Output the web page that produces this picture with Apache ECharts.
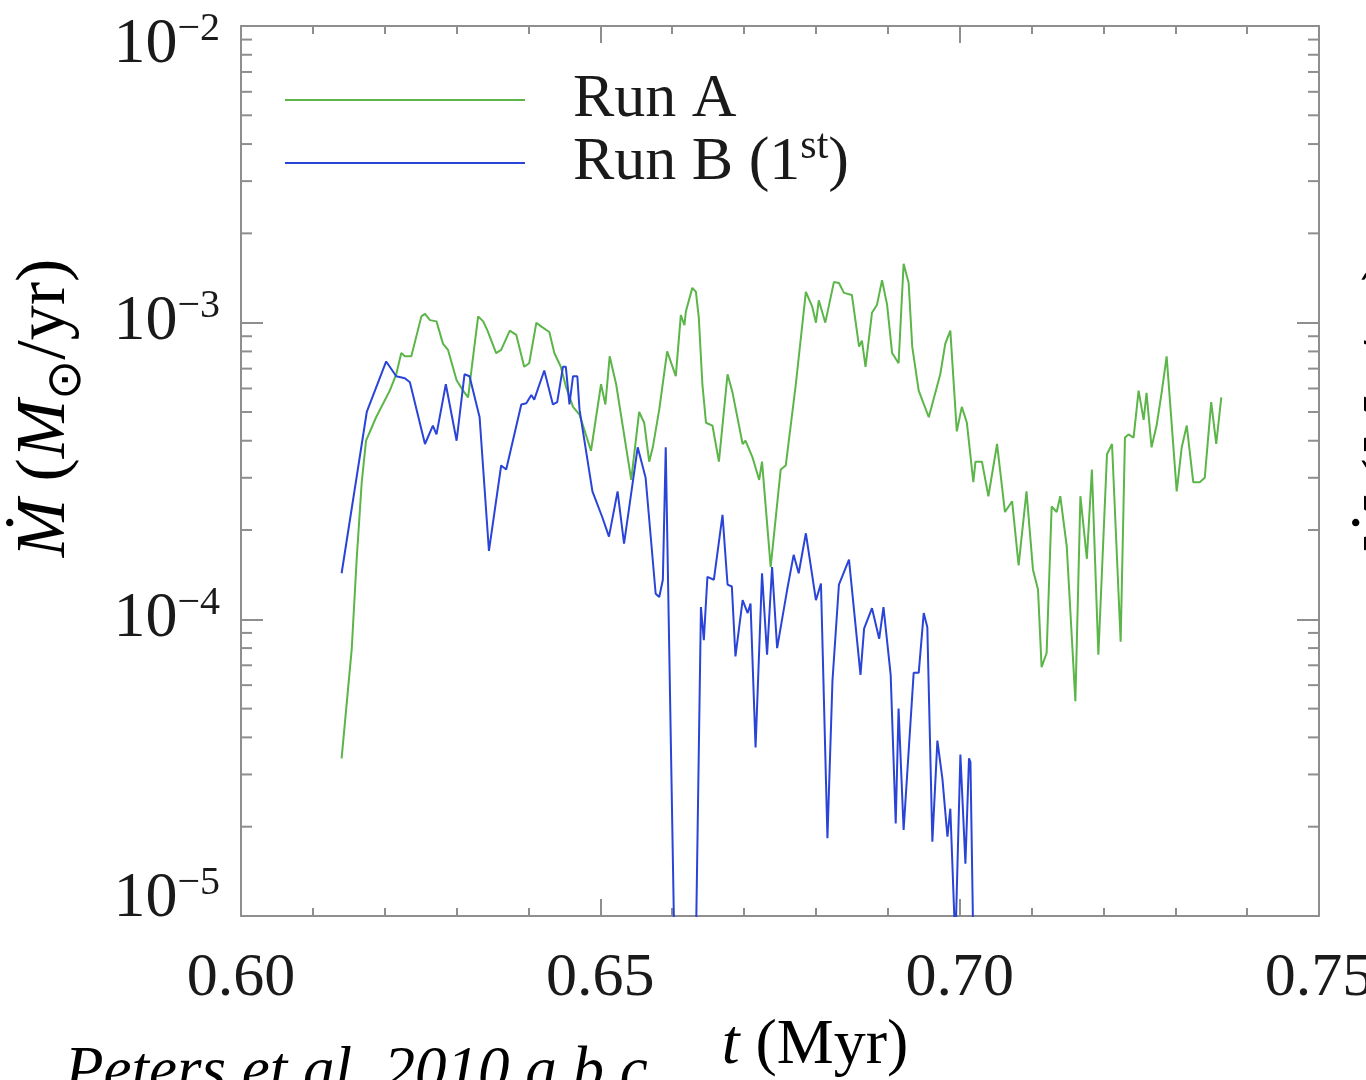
<!DOCTYPE html>
<html>
<head>
<meta charset="utf-8">
<script src="https://cdn.jsdelivr.net/npm/echarts@6/dist/echarts.min.js"></script>
<style>
html,body{margin:0;padding:0;background:#fff;}
#chart{width:1366px;height:1080px;}
</style>
</head>
<body>
<div id="chart"></div>
<script>
// ---- data: [t (Myr), Mdot (Msun/yr)] ----
const runA = [
[0.6140,3.4e-5],[0.6154,7.9e-5],[0.6161,1.6e-4],[0.6168,2.9e-4],[0.6174,4.0e-4],[0.6188,4.8e-4],
[0.6207,5.9e-4],[0.6216,6.7e-4],[0.6223,7.9e-4],[0.6228,7.7e-4],[0.6237,7.7e-4],[0.6251,1.05e-3],
[0.6256,1.07e-3],[0.6263,1.02e-3],[0.6272,1.01e-3],[0.6281,8.5e-4],[0.6288,8.1e-4],[0.6300,6.4e-4],
[0.6309,5.9e-4],[0.6316,5.6e-4],[0.6323,7.7e-4],[0.6330,1.05e-3],[0.6337,1.01e-3],[0.6343,9.4e-4],
[0.6355,7.9e-4],[0.6362,8.1e-4],[0.6374,9.4e-4],[0.6383,9.1e-4],[0.6394,7.1e-4],[0.6401,7.3e-4],
[0.6411,1.0e-3],[0.6418,9.7e-4],[0.6429,9.3e-4],[0.6436,7.9e-4],[0.6445,7.1e-4],[0.6452,6.1e-4],
[0.6462,5.2e-4],[0.6471,4.9e-4],[0.6487,3.7e-4],[0.6501,6.2e-4],[0.6507,5.3e-4],[0.6513,7.7e-4],
[0.6522,6.2e-4],[0.6543,2.95e-4],[0.6554,5.0e-4],[0.6561,4.6e-4],[0.6568,3.4e-4],[0.6573,3.8e-4],
[0.6582,5.1e-4],[0.6593,8.0e-4],[0.6605,6.6e-4],[0.6612,1.06e-3],[0.6617,9.8e-4],[0.6619,1.09e-3],
[0.6628,1.31e-3],[0.6633,1.27e-3],[0.6637,1.04e-3],[0.6642,6.2e-4],[0.6647,4.6e-4],[0.6656,4.5e-4],
[0.6665,3.4e-4],[0.6677,6.7e-4],[0.6684,5.8e-4],[0.6698,3.9e-4],[0.6702,4.0e-4],[0.6712,3.5e-4],
[0.6721,2.95e-4],[0.6725,3.4e-4],[0.6737,1.5e-4],[0.6751,3.2e-4],[0.6758,3.3e-4],[0.6772,6.2e-4],
[0.6786,1.27e-3],[0.6795,1.13e-3],[0.6800,1.0e-3],[0.6804,1.19e-3],[0.6813,1.0e-3],[0.6825,1.37e-3],
[0.6832,1.36e-3],[0.6839,1.26e-3],[0.6850,1.24e-3],[0.6860,8.3e-4],[0.6864,8.7e-4],[0.6869,7.1e-4],
[0.6878,1.08e-3],[0.6885,1.15e-3],[0.6892,1.39e-3],[0.6899,1.15e-3],[0.6906,7.9e-4],[0.6915,7.3e-4],
[0.6922,1.58e-3],[0.6929,1.36e-3],[0.6934,8.3e-4],[0.6943,5.9e-4],[0.6957,4.8e-4],[0.6973,6.7e-4],
[0.6980,8.5e-4],[0.6987,9.4e-4],[0.6996,4.3e-4],[0.7003,5.2e-4],[0.7010,4.6e-4],[0.7019,2.9e-4],
[0.7022,3.4e-4],[0.7031,3.4e-4],[0.7040,2.6e-4],[0.7052,3.9e-4],[0.7063,2.3e-4],[0.7073,2.5e-4],
[0.7082,1.52e-4],[0.7093,2.7e-4],[0.7102,1.47e-4],[0.7109,1.26e-4],[0.7114,6.9e-5],[0.7121,7.7e-5],
[0.7128,2.4e-4],[0.7135,2.3e-4],[0.7140,2.6e-4],[0.7149,1.76e-4],[0.7161,5.3e-5],[0.7168,2.6e-4],
[0.7177,1.6e-4],[0.7184,3.2e-4],[0.7193,7.6e-5],[0.7205,3.6e-4],[0.7212,3.9e-4],[0.7224,8.4e-5],
[0.7230,4.1e-4],[0.7235,4.2e-4],[0.7242,4.1e-4],[0.7249,5.9e-4],[0.7256,4.7e-4],[0.7260,5.8e-4],
[0.7267,3.8e-4],[0.7274,4.5e-4],[0.7281,5.8e-4],[0.7288,7.7e-4],[0.7302,2.7e-4],[0.7309,3.8e-4],
[0.7316,4.5e-4],[0.7325,2.9e-4],[0.7334,2.9e-4],[0.7341,3.0e-4],[0.7350,5.4e-4],[0.7357,3.9e-4],
[0.7364,5.6e-4]
];
const runB = [
[0.6140,1.43e-4],[0.6175,5.0e-4],[0.6179,5.3e-4],[0.6202,7.4e-4],[0.6216,6.6e-4],[0.6228,6.5e-4],
[0.6235,6.3e-4],[0.6256,3.9e-4],[0.6267,4.5e-4],[0.6272,4.2e-4],[0.6285,6.2e-4],[0.6300,4.0e-4],
[0.6311,6.7e-4],[0.6318,6.6e-4],[0.6332,4.8e-4],[0.6345,1.7e-4],[0.6362,3.3e-4],[0.6369,3.2e-4],
[0.6390,5.3e-4],[0.6397,5.35e-4],[0.6404,5.7e-4],[0.6408,5.5e-4],[0.6422,6.9e-4],[0.6434,5.3e-4],
[0.6440,5.4e-4],[0.6448,7.1e-4],[0.6452,7.1e-4],[0.6457,5.3e-4],[0.6462,6.6e-4],[0.6468,6.6e-4],
[0.6471,5.1e-4],[0.6489,2.7e-4],[0.6503,2.2e-4],[0.6512,1.9e-4],[0.6524,2.7e-4],[0.6533,1.8e-4],
[0.6552,3.8e-4],[0.6563,3.0e-4],[0.6577,1.22e-4],[0.6582,1.19e-4],[0.6587,1.36e-4],[0.6591,3.8e-4],
[0.6603,8e-6],[0.6633,8e-6],[0.6640,1.10e-4],[0.6644,8.5e-5],[0.6649,1.39e-4],[0.6658,1.36e-4],
[0.6670,2.25e-4],[0.6677,1.31e-4],[0.6683,1.29e-4],[0.6688,7.5e-5],[0.6698,1.16e-4],[0.6705,1.05e-4],
[0.6709,1.13e-4],[0.6716,3.7e-5],[0.6725,1.43e-4],[0.6732,7.6e-5],[0.6739,1.5e-4],[0.6746,8.0e-5],
[0.6760,1.26e-4],[0.6769,1.65e-4],[0.6776,1.43e-4],[0.6786,1.95e-4],[0.6800,1.16e-4],[0.6807,1.32e-4],
[0.6816,1.83e-5],[0.6823,6.2e-5],[0.6832,1.31e-4],[0.6846,1.59e-4],[0.6862,6.5e-5],[0.6867,9.3e-5],
[0.6878,1.09e-4],[0.6888,8.6e-5],[0.6894,1.10e-4],[0.6904,6.5e-5],[0.6911,2.05e-5],[0.6915,5.0e-5],
[0.6922,1.95e-5],[0.6936,6.6e-5],[0.6943,6.6e-5],[0.6950,1.05e-4],[0.6955,9.4e-5],[0.6962,1.78e-5],
[0.6969,3.9e-5],[0.6976,2.9e-5],[0.6983,1.85e-5],[0.6987,2.3e-5],[0.6994,8e-6],[0.7001,3.5e-5],
[0.7008,1.5e-5],[0.7013,3.4e-5],[0.7015,3.3e-5],[0.7019,8e-6]
];
const seriesNames = ['Run A', 'Run B (1st)'];
const xTickValues = [0.60, 0.65, 0.70, 0.75];
const yDecades = [1e-5, 1e-4, 1e-3, 1e-2];
const yMinorTicks = [2e-5,3e-5,4e-5,5e-5,6e-5,7e-5,8e-5,9e-5,
                     2e-4,3e-4,4e-4,5e-4,6e-4,7e-4,8e-4,9e-4,
                     2e-3,3e-3,4e-3,5e-3,6e-3,7e-3,8e-3,9e-3];

const SERIF = "'Liberation Serif', 'DejaVu Serif', serif";
const TXT = '#1a1a1a';
const AX = '#8e8e8e';
const GREEN = '#5bb548';
const BLUE = '#2a44d8';

const chart = echarts.init(document.getElementById('chart'), null, {renderer: 'canvas'});

const xBase = {
  type: 'value',
  min: xTickValues[0],
  max: xTickValues[xTickValues.length - 1],
  interval: 0.05,
  axisLine: {show: true, onZero: false, lineStyle: {color: AX, width: 2}},
  axisTick: {show: true, inside: true, length: 17, lineStyle: {color: AX, width: 2}},
  minorTick: {show: true, splitNumber: 5, length: 8, lineStyle: {color: AX, width: 2}},
  splitLine: {show: false},
  minorSplitLine: {show: false}
};
const yBase = {
  type: 'log',
  logBase: 10,
  min: yDecades[0],
  max: yDecades[yDecades.length - 1],
  interval: 1,
  axisLine: {show: true, onZero: false, lineStyle: {color: AX, width: 2}},
  axisTick: {show: true, inside: true, length: 22, lineStyle: {color: AX, width: 2}},
  splitLine: {show: false}
};

function yLabel(v) {
  const e = Math.round(-Math.log10(v));
  const sup = '\u2212' + e;
  if (e === 2) return '{bt|10}{st|' + sup + '}';
  if (e === 5) return '{bb|10}{sb|' + sup + '}';
  return '{b|10}{s|' + sup + '}';
}
const bStyle = {fontFamily: SERIF, fontSize: 64, color: TXT};
const sStyle = {fontFamily: SERIF, fontSize: 40, color: TXT};

const yTitleRich = {
  n: {fontFamily: SERIF, fontSize: 70, color: TXT},
  i: {fontFamily: SERIF, fontSize: 70, fontStyle: 'italic', color: TXT},
  o: {fontFamily: "'DejaVu Sans', sans-serif", fontSize: 48, padding: [44, 0, 0, 0], color: TXT}
};
const yTitleText = '{i|\u1E40}{n| (}{i|M}{o|\u2299}{n|/yr)}';

const legendText = {
  padding: [0, 0, 0, 43],
  rich: {
    n: {fontFamily: SERIF, fontSize: 62, color: TXT},
    s: {fontFamily: SERIF, fontSize: 42, padding: [0, 0, 32, 0], color: TXT}
  }
};
const legendFormatter = name => name === 'Run A' ? '{n|Run A}' : '{n|Run B (1}{s|st}{n|)}';

const option = {
  backgroundColor: '#ffffff',
  animation: false,
  grid: {left: 241, right: 47, top: 26, bottom: 164, containLabel: false, outerBoundsMode: 'none'},
  xAxis: [
    Object.assign({}, xBase, {
      position: 'bottom',
      axisLabel: {
        show: true, margin: 32, showMinLabel: true, showMaxLabel: true, hideOverlap: false,
        fontFamily: SERIF, fontSize: 62, lineHeight: 62, color: TXT,
        formatter: v => v.toFixed(2)
      }
    }),
    Object.assign({}, xBase, {position: 'top', axisLabel: {show: false}})
  ],
  yAxis: [
    Object.assign({}, yBase, {
      position: 'left',
      axisLabel: {
        show: true, margin: 21, showMinLabel: true, showMaxLabel: true,
        formatter: yLabel,
        rich: {
          b:  Object.assign({}, bStyle, {lineHeight: 40}),
          s:  Object.assign({}, sStyle, {lineHeight: 8, padding: [0, 0, 32, 0]}),
          bt: Object.assign({}, bStyle, {lineHeight: 2, padding: [38, 0, 0, 0]}),
          st: Object.assign({}, sStyle, {lineHeight: 2, padding: [6, 0, 0, 0]}),
          bb: Object.assign({}, bStyle, {lineHeight: 2, padding: [0, 0, 34, 0]}),
          sb: Object.assign({}, sStyle, {lineHeight: 2, padding: [0, 0, 66, 0]})
        }
      }
    }),
    Object.assign({}, yBase, {position: 'right', axisLabel: {show: false}})
  ],
  legend: [
    {
      data: [seriesNames[0]], orient: 'vertical', left: 285, top: 69, padding: 0,
      icon: 'rect', itemWidth: 240, itemHeight: 2, selectedMode: false,
      formatter: legendFormatter, textStyle: legendText
    },
    {
      data: [seriesNames[1]], orient: 'vertical', left: 285, top: 126, padding: 0,
      icon: 'rect', itemWidth: 240, itemHeight: 2, selectedMode: false,
      formatter: legendFormatter, textStyle: legendText
    }
  ],
  series: [
    {
      name: seriesNames[0], type: 'line', data: runA,
      xAxisIndex: 0, yAxisIndex: 0,
      symbol: 'none', showSymbol: false, clip: true,
      lineStyle: {color: GREEN, width: 2}, itemStyle: {color: GREEN}
    },
    {
      name: seriesNames[1], type: 'line', data: runB,
      xAxisIndex: 0, yAxisIndex: 0,
      symbol: 'none', showSymbol: false, clip: true,
      lineStyle: {color: BLUE, width: 2}, itemStyle: {color: BLUE}
    },
    {
      type: 'custom', silent: true, xAxisIndex: 0, yAxisIndex: 0,
      data: yMinorTicks.map(v => [xTickValues[0], v]),
      renderItem: function (params, api) {
        const cs = params.coordSys;
        const y = api.coord([api.value(0), api.value(1)])[1];
        const st = {stroke: AX, lineWidth: 2};
        return {
          type: 'group',
          children: [
            {type: 'line', shape: {x1: cs.x, y1: y, x2: cs.x + 11, y2: y}, style: st},
            {type: 'line', shape: {x1: cs.x + cs.width - 11, y1: y, x2: cs.x + cs.width, y2: y}, style: st}
          ]
        };
      }
    }
  ],
  graphic: [
    {
      type: 'text', x: 46, y: 408, rotation: Math.PI / 2,
      style: {text: yTitleText, align: 'center', verticalAlign: 'middle', rich: yTitleRich}
    },
    {
      type: 'text', x: 1392, y: 408, rotation: Math.PI / 2,
      style: {text: yTitleText, align: 'center', verticalAlign: 'middle', rich: yTitleRich}
    },
    {
      type: 'text', x: 815, y: 1046,
      style: {
        text: '{i|t}{n| (Myr)}',
        align: 'center', verticalAlign: 'middle',
        rich: {
          n: {fontFamily: SERIF, fontSize: 64, color: TXT},
          i: {fontFamily: SERIF, fontSize: 64, fontStyle: 'italic', color: TXT}
        }
      }
    },
    {
      type: 'text', x: 65, y: 1073,
      style: {
        text: 'Peters et al. 2010 a,b,c',
        align: 'left', verticalAlign: 'middle',
        fontFamily: SERIF, fontSize: 63, fontStyle: 'italic', fill: '#000'
      }
    }
  ]
};
chart.setOption(option);
</script>
</body>
</html>
